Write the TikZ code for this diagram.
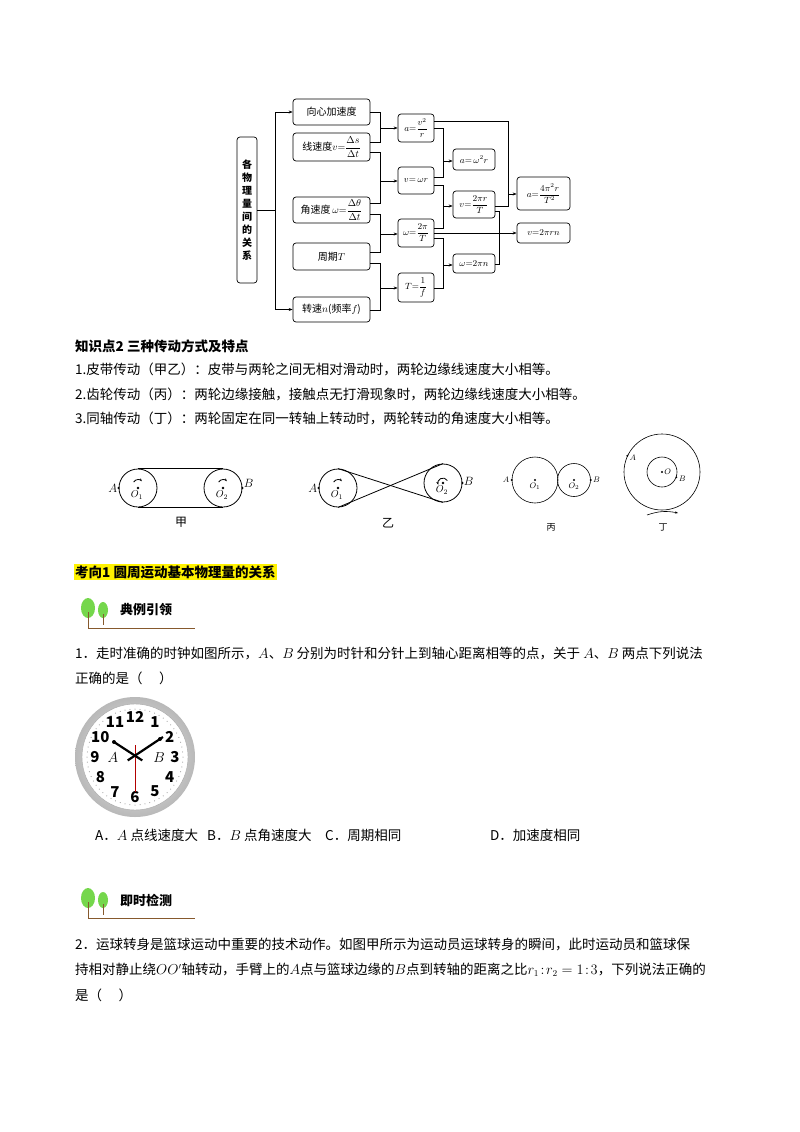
\documentclass[tikz,border=0pt]{standalone}
\usepackage{fontspec}
\usepackage{amsmath}
\setmainfont{Noto Sans CJK SC}
\usetikzlibrary{arrows.meta,calc}
\begin{document}
\begin{tikzpicture}[x=1pt,y=-1pt,
 fb/.style={draw,rounded corners=3pt,line width=0.7pt,inner sep=1pt,font=\fontsize{10}{11}\selectfont},
 mb/.style={fb,font=\fontsize{9}{9}\selectfont},
 ln/.style={line width=0.6pt},
 ar/.style={line width=0.6pt,-{Stealth[length=4pt]}},
 txt/.style={anchor=west,inner sep=0,font=\fontsize{13.5}{15}\selectfont},
 lab/.style={inner sep=0,font=\fontsize{10}{11}\selectfont}]
\useasboundingbox (0,0) rectangle (800,1132);
% ---------- flowchart
\node[fb,minimum width=20pt,minimum height=146pt,align=center,font=\fontsize{10}{13}\selectfont\bfseries] (L) at (247,210) {各\\物\\理\\量\\间\\的\\关\\系};
\foreach \n/\y/\h/\t in {c1/112/26/{向心加速度},c2/147/28/{线速度$v{=}\dfrac{\Delta s}{\Delta t}$},c3/210/26/{角速度$\,\omega{=}\dfrac{\Delta\theta}{\Delta t}$},c4/256.5/27/{周期$T$},c5/309.5/25/{转速$n$(频率$f$)}}
 \node[fb,minimum width=77pt,minimum height=\h pt,inner sep=0pt] (\n) at (331.5,\y) {\t};
\foreach \n/\y/\h/\t in {d1/128/28/{$a{=}\dfrac{v^2}{r}$},d2/180.5/27/{$v{=}\,\omega r$},d3/233/28/{$\omega{=}\dfrac{2\pi}{T}$},d4/287.5/29/{$T{=}\dfrac{1}{f}$}}
 \node[mb,minimum width=36pt,minimum height=\h pt,inner sep=0pt] (\n) at (416,\y) {\t};
\foreach \n/\y/\h/\t in {e1/159.5/21/{$a{=}\,\omega^2 r$},e2/204.5/27/{$v{=}\dfrac{2\pi r}{T}$},e3/263.5/19/{$\omega{=}2\pi n$}}
 \node[mb,minimum width=42pt,minimum height=\h pt,inner sep=0pt] (\n) at (474,\y) {\t};
\node[mb,minimum width=53pt,minimum height=33pt,inner sep=0pt] (f1) at (543.5,193.5) {$a{=}\dfrac{4\pi^2 r}{T^2}$};
\node[mb,minimum width=53pt,minimum height=20pt] (f2) at (543.5,233) {$v{=}2\pi rn$};
\coordinate (bus) at (275,0);
\draw[ln] (L.east) -- (L.east -| bus);
\draw[ar] (bus |- c1.west) |- (c1.west);
\draw[ar] (bus |- c1.west) -- (bus |- c5.west) -- (c5.west);
% col1 -> col2
\foreach \ya/\yb/\t/\yt in {112/142/d1/128, 152/203/d2/181, 214/252/d3/234, 263/310/d4/288}{
 \draw[ln] (c1.east |- 0,\ya) -- (380,\ya) -- (380,\yb) -- (c1.east |- 0,\yb);
 \draw[ar] (380,\yt) -- (\t.west |- 0,\yt);}
% col2 -> col3
\foreach \ya/\yb/\t/\yt in {128/177/e1/161, 185/228/e2/206, 238/288/e3/265}{
 \draw[ln] (d1.east |- 0,\ya) -- (443,\ya) -- (443,\yb) -- (d1.east |- 0,\yb);
 \draw[ar] (443,\yt) -- (\t.west |- 0,\yt);}
\draw[ln] (d1.east |- 0,121) -- (508,121) -- (508,206) -- (e2.east |- 0,206);
\draw[ar] (508,194) -- (f1.west |- 0,194);
\draw[ar] (d3.east |- 0,233) -- (f2.west);
\draw[ln] (e2.east |- 0,211) -- (499,211) -- (499,264) -- (e3.east |- 0,264);
% ---------- text
\node[txt,font=\fontsize{13.5}{15}\selectfont\bfseries] (h1) at (75,346) {知识点2\ 三种传动方式及特点};
\node[txt] (t1) at (75,369) {1.皮带传动（甲乙）：皮带与两轮之间无相对滑动时，两轮边缘线速度大小相等。};
\node[txt] (t2) at (75,394) {2.齿轮传动（丙）：两轮边缘接触，接触点无打滑现象时，两轮边缘线速度大小相等。};
\node[txt] (t3) at (75,418) {3.同轴传动（丁）：两轮固定在同一转轴上转动时，两轮转动的角速度大小相等。};
% ---------- pulleys 甲
\begin{scope}[line width=0.8pt]
\node[circle,draw,minimum size=38pt,inner sep=0] (p1) at (138,488) {};
\node[circle,draw,minimum size=38pt,inner sep=0] (p2) at (223,488) {};
\draw (p1.north) -- (p2.north); \draw (p1.south) -- (p2.south);
\fill (p1.center) circle (1.3pt) (p2.center) circle (1.3pt) (p1.west) circle (1.2pt) (p2.east) circle (1.2pt);
\node[lab] at ([xshift=-1pt,yshift=-7pt]p1.center) {$O_1$};
\node[lab] at ([xshift=-1pt,yshift=-7pt]p2.center) {$O_2$};
\node[lab,anchor=east,font=\fontsize{12}{12}\selectfont] at ([xshift=-1pt]p1.west) {$A$};
\node[lab,anchor=west,font=\fontsize{12}{12}\selectfont] at ([xshift=1pt,yshift=5pt]p2.east) {$B$};
\draw[-{Stealth[length=3pt]}] ([shift={(-4.3,-6)}]p1.center) arc (-150:-40:5);
\draw[-{Stealth[length=3pt]}] ([shift={(-4.3,-6)}]p2.center) arc (-150:-40:5);
\node[lab,font=\fontsize{12}{12}\selectfont] at (181,522) {甲};
% 乙
\node[circle,draw,minimum size=38pt,inner sep=0] (q1) at (338,488) {};
\node[circle,draw,minimum size=38pt,inner sep=0] (q2) at (443,483) {};
\draw (q1.north) -- (q2.south); \draw (q1.south) -- (q2.north);
\fill (q1.center) circle (1.3pt) (q2.center) circle (1.3pt) (q1.west) circle (1.2pt) (q2.east) circle (1.2pt);
\node[lab] at ([xshift=-1pt,yshift=-7pt]q1.center) {$O_1$};
\node[lab] at ([xshift=-1pt,yshift=-7pt]q2.center) {$O_2$};
\node[lab,anchor=east,font=\fontsize{12}{12}\selectfont] at ([xshift=-1pt]q1.west) {$A$};
\node[lab,anchor=west,font=\fontsize{12}{12}\selectfont] at ([xshift=1pt,yshift=2pt]q2.east) {$B$};
\draw[-{Stealth[length=3pt]}] ([shift={(-4.3,-6)}]q1.center) arc (-150:-40:5);
\draw[-{Stealth[length=3pt]}] ([shift={(4.3,-2.5)}]q2.center) arc (-30:-200:5);
\node[lab,font=\fontsize{12}{12}\selectfont] at (388,523) {乙};
% 丙
\node[circle,draw,line width=0.6pt,minimum size=46pt,inner sep=0] (g1) at (535,480) {};
\node[circle,draw,line width=0.6pt,minimum size=33pt,inner sep=0] (g2) at (574,480) {};
\fill (g1.center) circle (1.1pt) (g2.center) circle (1.1pt) (g1.west) circle (1.1pt) (g2.east) circle (1.1pt);
\node[lab,font=\fontsize{8}{8}\selectfont] at ([yshift=-6pt]g1.center) {$O_1$};
\node[lab,font=\fontsize{8}{8}\selectfont] at ([yshift=-6pt]g2.center) {$O_2$};
\node[lab,anchor=east,font=\fontsize{8}{8}\selectfont] at ([xshift=-2pt]g1.west) {$A$};
\node[lab,anchor=west,font=\fontsize{8}{8}\selectfont] at ([xshift=2pt]g2.east) {$B$};
\node[lab,font=\fontsize{9}{9}\selectfont] at (551,527) {丙};
% 丁
\node[circle,draw,line width=0.6pt,minimum size=76pt,inner sep=0] (w1) at (662,472) {};
\node[circle,draw,line width=0.6pt,minimum size=30pt,inner sep=0] (w2) at (662,472) {};
\fill (w1.center) circle (1.1pt) (w1.155) circle (1.1pt) (w2.-20) circle (1.1pt);
\node[lab,font=\fontsize{8}{8}\selectfont,anchor=west] at ([xshift=2pt]w1.center) {$O$};
\node[lab,font=\fontsize{8}{8}\selectfont,anchor=west] at ([xshift=2pt,yshift=-2pt]w2.-20) {$B$};
\node[lab,font=\fontsize{8}{8}\selectfont,anchor=west] at ([xshift=2pt,yshift=-2pt]w1.155) {$A$};
\draw[line width=0.6pt,-{Stealth[length=3pt]}] (647,515) to[bend left=15] (678,513);
\node[lab,font=\fontsize{9}{9}\selectfont] at (663,527) {丁};
\end{scope}
% ---------- heading
\node[txt,fill=yellow,inner sep=1pt,font=\fontsize{13.5}{15}\selectfont\bfseries] (h2) at (74,572) {考向1\ 圆周运动基本物理量的关系};
% icons
\foreach \y/\t/\nm in {610/典例引领/i1, 900/即时检测/i2}{
 \fill[green!55!olive!70] (88,\y-2) ellipse (7pt and 10pt);
 \fill[green!55!olive!70] (103,\y) ellipse (5pt and 8pt);
 \draw[brown!70!black,line width=1pt] (88,\y+2) -- (88,\y+18) -- (195,\y+18);
 \draw[brown!70!black,line width=0.8pt] (103,\y+4) -- (103,\y+15);
 \node[txt,font=\fontsize{13}{15}\selectfont\bfseries] (\nm) at (120,\y) {\t};}
% question 1
\node[txt] (q1t) at (75,653) {1．走时准确的时钟如图所示，$A$、$B$ 分别为时针和分针上到轴心距离相等的点，关于 $A$、$B$ 两点下列说法};
\node[txt] (q1u) at (75,678) {正确的是（\quad\ ）};
% clock
\coordinate (ck) at (135,757);
\shade[inner color=gray!10,outer color=gray!55] (ck) circle (60pt);
\fill[white] (ck) circle (53pt);
\draw[gray!70] (ck) circle (53pt);
\foreach \i in {0,...,59} \fill[gray] ($(ck)+(\i*6:48)$) circle (0.5pt);
\foreach \h in {1,...,12} \node[inner sep=0,font=\fontsize{15}{15}\selectfont\bfseries] at ($(ck)+(\h*30-90:40)$) {\h};
\draw[red!70!black,line width=0.8pt] (135,745) -- (135,792);
\draw[line width=2.2pt] ($(ck)+(25:8)$) -- (114,742);
\draw[line width=2.2pt] ($(ck)+(155:8)$) -- (163,737);
\fill (114,742) circle (2pt) (160,739) circle (2pt);
\node[inner sep=0,font=\fontsize{14}{14}\selectfont] at (113,758) {$A$};
\node[inner sep=0,font=\fontsize{14}{14}\selectfont] at (159,758) {$B$};
% options
\node[txt] (oA) at (95,835) {A．$A$ 点线速度大};
\node[txt] (oB) at (207,835) {B．$B$ 点角速度大};
\node[txt] (oC) at (325,835) {C．周期相同};
\node[txt] (oD) at (490,835) {D．加速度相同};
% question 2
\node[txt] (q2a) at (75,945) {2．运球转身是篮球运动中重要的技术动作。如图甲所示为运动员运球转身的瞬间，此时运动员和篮球保};
\node[txt] (q2b) at (75,970) {持相对静止绕$OO'$轴转动，手臂上的$A$点与篮球边缘的$B$点到转轴的距离之比$r_1\!:\!r_2=1\!:\!3$，下列说法正确的};
\node[txt] (q2c) at (75,995) {是（\quad\ ）};
\end{tikzpicture}
\end{document}
